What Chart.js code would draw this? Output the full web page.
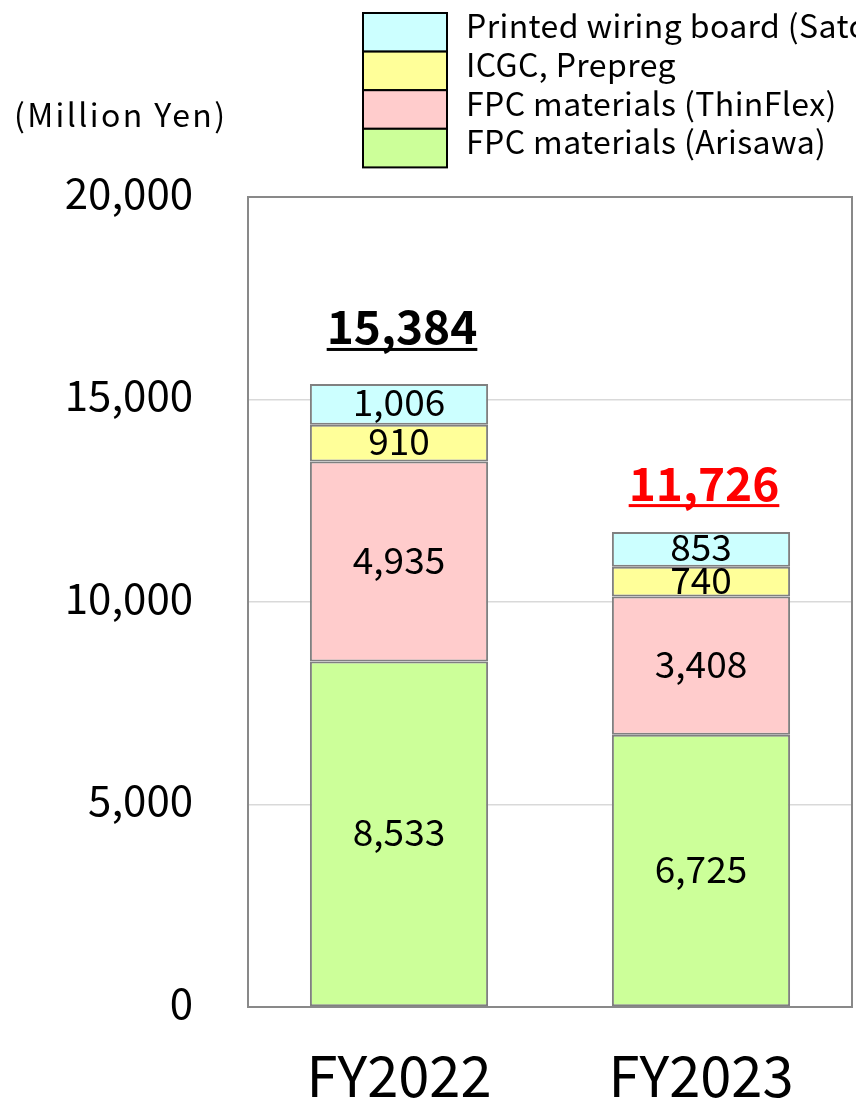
<!DOCTYPE html>
<html>
<head>
<meta charset="utf-8">
<script src="https://cdn.jsdelivr.net/npm/chart.js@4.4.1/dist/chart.umd.min.js"></script>
<style>
  body { margin: 0; background: #fff; overflow: hidden; }
  canvas { display: block; }
</style>
</head>
<body>
<canvas id="graficoVentas" width="856" height="1102"></canvas>
<script>
// Datos del gráfico (millones de yenes)
const categorias = ['FY2022', 'FY2023'];
const fpcArisawa = [8533, 6725];
const fpcThinFlex = [4935, 3408];
const icgcPrepreg = [910, 740];
const placaImpresa = [1006, 853];
const totales = [15384, 11726];
const ticksEjeY = [0, 5000, 10000, 15000, 20000];
const nombresSeries = [
    'FPC materials (Arisawa)',
    'FPC materials (ThinFlex)',
    'ICGC, Prepreg',
    'Printed wiring board (Satosen)'
];
const unidad = '(Million Yen)';

const fuente = "'Noto Sans CJK JP', 'Liberation Sans', sans-serif";
const colores = ['#CCFF99', '#FFCCCC', '#FFFF99', '#CCFFFF'];
const coloresTotales = ['#000000', '#FF0000'];

// Marco del área de trazado
const marcoPlugin = {
    id: 'marco',
    beforeDatasetsDraw(chart) {
        const { ctx, chartArea: a } = chart;
        ctx.save();
        ctx.strokeStyle = '#898989';
        ctx.lineWidth = 2;
        ctx.strokeRect(a.left, a.top, a.right - a.left, a.bottom - a.top);
        ctx.restore();
    }
};

// Etiquetas de valores y totales
const etiquetasPlugin = {
    id: 'etiquetas',
    afterDatasetsDraw(chart, args, opts) {
        const ctx = chart.ctx;
        ctx.save();
        ctx.textAlign = 'center';
        ctx.textBaseline = 'middle';
        ctx.fillStyle = '#000';
        ctx.font = `37px ${fuente}`;
        chart.data.datasets.forEach((ds, i) => {
            chart.getDatasetMeta(i).data.forEach((barra, j) => {
                const centro = (barra.y + barra.base) / 2 - 2;
                ctx.fillText(ds.data[j].toLocaleString('en-US'), barra.x, centro);
            });
        });

        ctx.font = `bold 46px ${fuente}`;
        totales.forEach((total, j) => {
            const x = chart.scales.x.getPixelForValue(j) + 3;
            const y = chart.scales.y.getPixelForValue(total) - opts.elevacion[j];
            const texto = total.toLocaleString('en-US');
            ctx.fillStyle = coloresTotales[j];
            ctx.fillText(texto, x, y);
            const ancho = ctx.measureText(texto).width;
            ctx.fillRect(x - ancho / 2, y + 21, ancho, 3);
        });
        ctx.restore();
    }
};

// Leyenda apilada y unidad
const leyendaPlugin = {
    id: 'leyendaApilada',
    afterDraw(chart) {
        const ctx = chart.ctx;
        ctx.save();
        const filas = chart.data.datasets.slice().reverse();
        const alto = 38.6;
        filas.forEach((ds, k) => {
            const y = 13 + k * alto;
            ctx.fillStyle = ds.backgroundColor;
            ctx.fillRect(363, y, 84, alto);
            ctx.strokeStyle = '#000';
            ctx.lineWidth = 2;
            ctx.strokeRect(363, y, 84, alto);
            ctx.fillStyle = '#000';
            ctx.font = `32px ${fuente}`;
            ctx.textAlign = 'left';
            ctx.textBaseline = 'middle';
            ctx.letterSpacing = '0.4px';
            ctx.fillText(ds.label, 466, y + alto / 2 - 6);
        });
        ctx.font = `32px ${fuente}`;
        ctx.textAlign = 'left';
        ctx.textBaseline = 'middle';
        ctx.letterSpacing = '2.4px';
        ctx.fillText(unidad, 14, 115);
        ctx.restore();
    }
};

const series = [fpcArisawa, fpcThinFlex, icgcPrepreg, placaImpresa];

const ctxVentas = document.getElementById('graficoVentas').getContext('2d');
new Chart(ctxVentas, {
    type: 'bar',
    data: {
        labels: categorias,
        datasets: series.map((valores, i) => ({
            label: nombresSeries[i],
            data: valores,
            backgroundColor: colores[i],
            borderColor: '#808080',
            borderWidth: 2,
            borderSkipped: false,
            barPercentage: 0.59,
            categoryPercentage: 1.0
        }))
    },
    options: {
        responsive: false,
        animation: false,
        layout: {
            padding: { top: 197, right: 4, left: 0, bottom: 0 }
        },
        scales: {
            x: {
                stacked: true,
                afterFit: (s) => { s.height = 95; },
                grid: { display: false },
                border: { display: false },
                ticks: {
                    color: '#000',
                    padding: 27,
                    font: { family: fuente, size: 56 }
                }
            },
            y: {
                stacked: true,
                min: 0,
                max: 20000,
                afterFit: (s) => { s.width = 248; },
                afterBuildTicks: (s) => { s.ticks = ticksEjeY.map(v => ({ value: v })); },
                border: { display: false },
                grid: {
                    drawTicks: false,
                    lineWidth: 1.5,
                    color: (c) => (c.tick && (c.tick.value === 0 || c.tick.value === 20000)) ? 'rgba(0,0,0,0)' : '#D9D9D9'
                },
                ticks: {
                    color: '#000',
                    padding: 55,
                    labelOffset: -4,
                    font: { family: fuente, size: 42 },
                    callback: (v) => v.toLocaleString('en-US')
                }
            }
        },
        plugins: {
            legend: { display: false },
            tooltip: { enabled: false },
            etiquetas: { elevacion: [57, 49] }
        }
    },
    plugins: [marcoPlugin, etiquetasPlugin, leyendaPlugin]
});
</script>
</body>
</html>
